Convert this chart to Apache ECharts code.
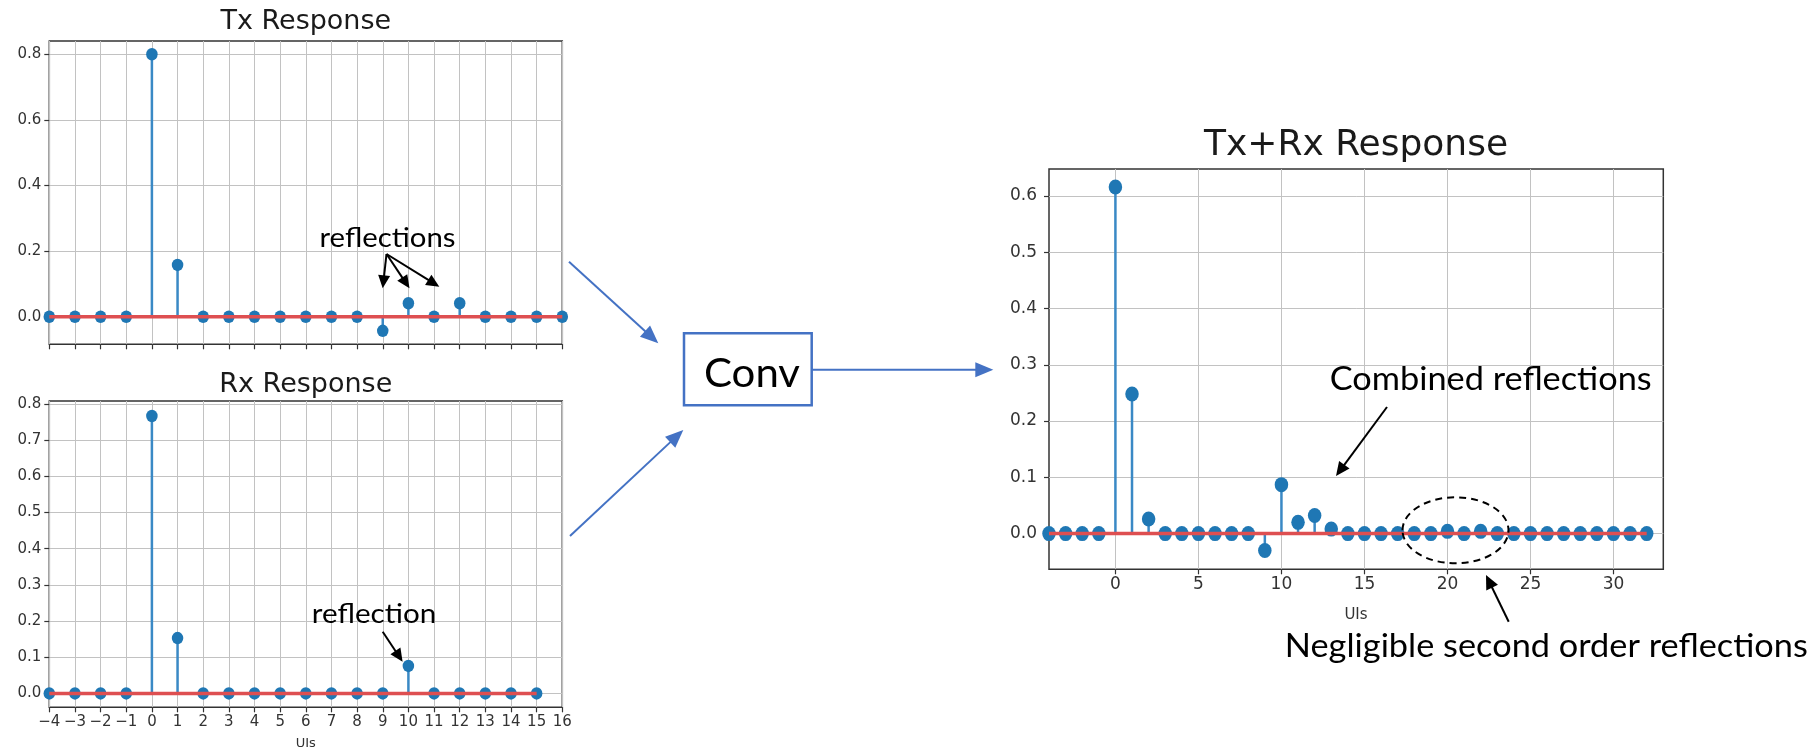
<!DOCTYPE html>
<html><head><meta charset="utf-8">
<script src="https://cdn.jsdelivr.net/npm/echarts@6/dist/echarts.min.js"></script>
<style>html,body{margin:0;padding:0;background:#fff}#c{width:1815px;height:751px}</style>
</head><body><div id="c"></div>
<script>
// ---------------- data ----------------
const txX = [-4,-3,-2,-1,0,1,2,3,4,5,6,7,8,9,10,11,12,13,14,15,16];
const txY = [0,0,0,0,0.8,0.158,0,0,0,0,0,0,0,-0.043,0.041,0,0.041,0,0,0,0];

const rxX = [-4,-3,-2,-1,0,1,2,3,4,5,6,7,8,9,10,11,12,13,14,15];
const rxY = [0,0,0,0,0.767,0.153,0,0,0,0,0,0,0,0,0.076,0,0,0,0,0];

const convX = [-4,-3,-2,-1,0,1,2,3,4,5,6,7,8,9,10,11,12,13,14,15,16,17,18,19,20,21,22,23,24,25,26,27,28,29,30,31,32];
const convY = [0,0,0,0,0.616,0.248,0.026,0,0,0,0,0,0,-0.03,0.087,0.02,0.032,0.008,0,0,0,0,0,0,0.004,0,0.004,0,0,0,0,0,0,0,0,0,0];

// tick labels
const sideXTicks = [-4,-3,-2,-1,0,1,2,3,4,5,6,7,8,9,10,11,12,13,14,15,16];
const txYTicks = [0,0.2,0.4,0.6,0.8];
const rxYTicks = [0,0.1,0.2,0.3,0.4,0.5,0.6,0.7,0.8];
const convXTicks = [0,5,10,15,20,25,30];
const convYTicks = [0,0.1,0.2,0.3,0.4,0.5,0.6];

// axis ranges
const sideXRange = [-4, 16];
const convXRange = [-4, 33];
const txYRange = [-0.084, 0.8405];
const rxYRange = [-0.0385, 0.8085];
const convYRange = [-0.0635, 0.648];

// titles / labels
const titles = ['Tx Response', 'Rx Response', 'Tx+Rx Response'];
const xName = 'UIs';

// ---------------- helpers ----------------
const TICK = '#333';
const GRIDC = '#c2c2c2';
function fmtX(v){ return v < 0 ? '\u2212' + Math.abs(v) : String(v); }
function fmtY(v){ return (+v).toFixed(1); }

function xAxisCfg(gi, range, ticks, step, showLabels, fs){
  return {
    type:'value', gridIndex:gi, min:range[0], max:range[1],
    minInterval:step, maxInterval:step,
    axisLine:{show:false, onZero:false},
    axisTick:{show:true, length:5, customValues:ticks, lineStyle:{color:TICK, width:1.2}},
    axisLabel:{show:showLabels, customValues:ticks, formatter:fmtX, color:TICK,
               fontSize:fs, fontFamily:'DejaVu Sans', margin:7},
    splitLine:{show:true, lineStyle:{color:GRIDC, width:1}}
  };
}
function yAxisCfg(gi, range, ticks, step, fs, margin){
  return {
    type:'value', gridIndex:gi, min:range[0], max:range[1],
    minInterval:step, maxInterval:step,
    axisLine:{show:false, onZero:false},
    axisTick:{show:true, length:5, customValues:ticks, lineStyle:{color:TICK, width:1.2}},
    axisLabel:{show:true, customValues:ticks, formatter:fmtY, color:TICK,
               fontSize:fs, fontFamily:'DejaVu Sans', margin:margin},
    splitLine:{show:true, lineStyle:{color:GRIDC, width:1}}
  };
}
function stemSeries(gi, xs, ys, barW, sym){
  const pts = xs.map((x,i)=>[x, ys[i]]);
  return [
    {type:'bar', xAxisIndex:gi, yAxisIndex:gi, data:pts, barWidth:barW,
     itemStyle:{color:'#3a89c5'}, z:2, silent:true},
    {type:'scatter', xAxisIndex:gi, yAxisIndex:gi, data:pts, symbol:'circle', symbolSize:sym,
     itemStyle:{color:'#1f77b4', opacity:1}, z:3, silent:true},
    {type:'line', xAxisIndex:gi, yAxisIndex:gi, data:[[xs[0],0],[xs[xs.length-1],0]],
     symbol:'none', showSymbol:false, lineStyle:{color:'#de4f51', width:3.5}, z:4, silent:true}
  ];
}

const mctx = document.createElement('canvas').getContext('2d');
function textEl(text, cx, cy, size, family, targetW, color){
  mctx.font = size + 'px ' + family;
  const w = mctx.measureText(text).width;
  const sx = targetW ? targetW / w : 1;
  return {type:'text', x:cx, y:cy, scaleX:sx, z:120, silent:true,
    style:{text:text, fontSize:size, fontFamily:family, fill:color || '#000',
           align:'center', verticalAlign:'middle', textAlign:'center', textVerticalAlign:'middle'}};
}
function arrow(x1,y1,x2,y2,color,lw,hl,hw){
  const dx=x2-x1, dy=y2-y1, len=Math.hypot(dx,dy), ux=dx/len, uy=dy/len;
  const bx=x2-ux*hl, by=y2-uy*hl;
  return [
    {type:'line', z:110, silent:true, shape:{x1:x1,y1:y1,x2:bx+ux,y2:by+uy}, style:{stroke:color, lineWidth:lw}},
    {type:'polygon', z:111, silent:true, shape:{points:[[x2,y2],[bx-uy*hw,by+ux*hw],[bx+uy*hw,by-ux*hw]]}, style:{fill:color}}
  ];
}

// ---------------- layout ----------------
const grids = [
  {left:49.3, top:41, width:513, height:303.3},
  {left:49.3, top:401, width:513, height:306.3},
  {left:1049, top:169, width:614.3, height:400.3}
];

const BLUE = '#4472c4';
const CAL = 'Lato, "Open Sans", sans-serif';
const DJ = '"DejaVu Sans", sans-serif';

const graphics = [].concat(
  // titles
  [textEl(titles[0], 305.8, 21.5, 27, DJ, null, '#1a1a1a'),
   textEl(titles[1], 305.8, 384.5, 27, DJ, null, '#1a1a1a'),
   textEl(titles[2], 1356, 146, 36, DJ, null, '#1a1a1a'),
   textEl(xName, 305.8, 744, 13, DJ, null, '#333'),
   textEl(xName, 1356, 615, 15, DJ, null, '#333')],
  // conv box
  [{type:'rect', z:100, silent:true, shape:{x:684, y:333.3, width:127.7, height:72},
    style:{fill:'#fff', stroke:BLUE, lineWidth:2.5}},
   textEl('Conv', 752, 374, 41, CAL, 96, '#000')],
  arrow(569, 261.7, 658.3, 343.3, BLUE, 2, 18, 7.5),
  arrow(570, 536, 683.3, 430, BLUE, 2, 18, 7.5),
  arrow(811.7, 369.7, 993.3, 369.7, BLUE, 2, 18, 7.5),
  // annotations
  [textEl('reflections', 387.5, 238.5, 26, CAL, 136, '#000')],
  arrow(386.5, 254, 382.7, 288.3, '#000', 2, 13, 6),
  arrow(386.5, 254, 409.5, 288.3, '#000', 2, 13, 6),
  arrow(386.5, 254, 439.3, 286.7, '#000', 2, 13, 6),
  [textEl('reflection', 374, 615, 26, CAL, 124.4, '#000')],
  arrow(382.7, 631.7, 402.6, 661.7, '#000', 2, 13, 6),
  [textEl('Combined reflections', 1490.7, 379.8, 32, CAL, 322, '#000')],
  arrow(1387, 407, 1336, 476, '#000', 2, 14, 6.5),
  [{type:'ellipse', z:110, silent:true, shape:{cx:1455.5, cy:530.3, rx:53, ry:33},
    style:{fill:'none', stroke:'#000', lineWidth:2, lineDash:[7,5]}}],
  arrow(1508.7, 621.7, 1486, 575, '#000', 2, 14, 6.5),
  [textEl('Negligible second order reflections', 1546.3, 646.5, 32, CAL, 523, '#000')]
);

const option = {
  animation:false,
  backgroundColor:'#fff',
  grid: grids.map(g => Object.assign({show:true, borderColor:'#333', borderWidth:1.5, backgroundColor:'transparent'}, g)),
  xAxis:[
    xAxisCfg(0, sideXRange, sideXTicks, 1, false, 15),
    xAxisCfg(1, sideXRange, sideXTicks, 1, true, 15),
    xAxisCfg(2, convXRange, convXTicks, 5, true, 17)
  ],
  yAxis:[
    yAxisCfg(0, txYRange, txYTicks, 0.2, 15, 8),
    yAxisCfg(1, rxYRange, rxYTicks, 0.1, 15, 8),
    yAxisCfg(2, convYRange, convYTicks, 0.1, 17, 12)
  ],
  series:[].concat(
    stemSeries(0, txX, txY, 2.5, [11.5, 12.5]),
    stemSeries(1, rxX, rxY, 2.5, [11.5, 12.5]),
    stemSeries(2, convX, convY, 2.5, [13.5, 15])
  ),
  graphic:{elements:graphics}
};
const chart = echarts.init(document.getElementById('c'), null, {renderer:'canvas'});
chart.setOption(option);
</script>
</body></html>
